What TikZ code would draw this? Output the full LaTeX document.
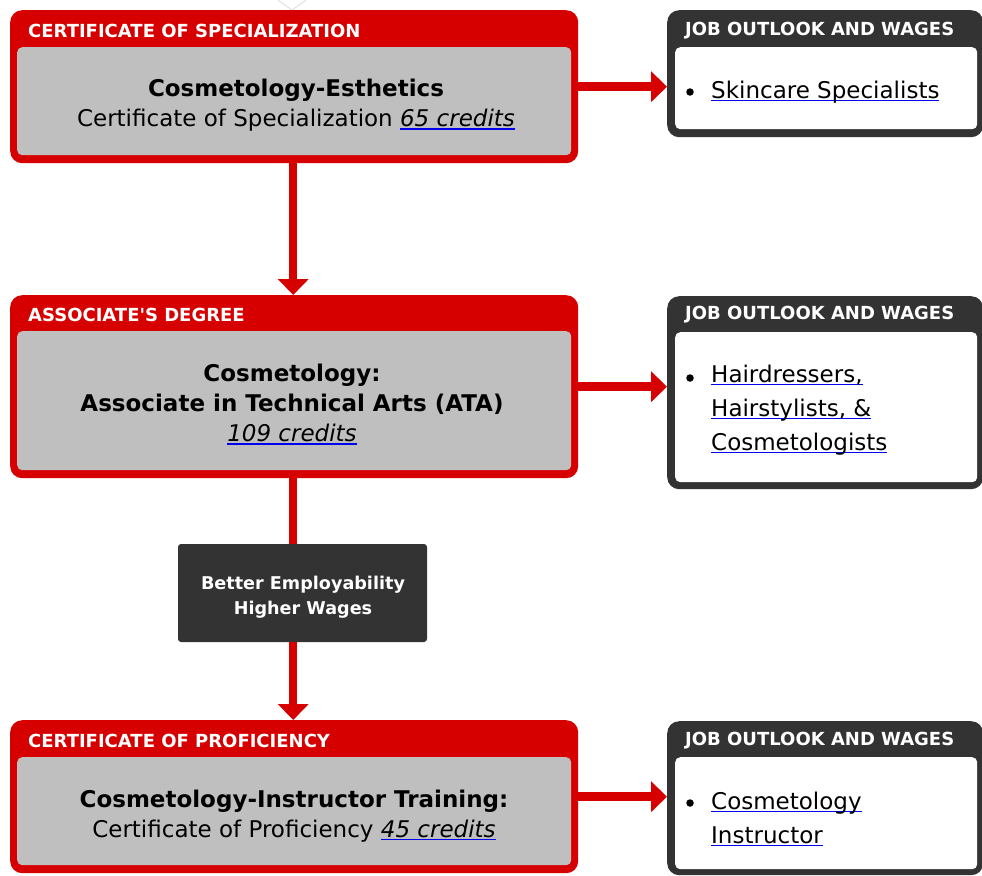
\documentclass[tikz,border=0pt]{standalone}
\usepackage{fontspec}
\setmainfont{DejaVu Sans}[BoldFont={DejaVu Sans Bold},ItalicFont={DejaVu Sans Oblique},BoldItalicFont={DejaVu Sans Bold Oblique}]
\usetikzlibrary{arrows.meta}
\definecolor{cred}{HTML}{D60000}
\definecolor{cgray}{HTML}{BFBFBF}
\definecolor{cdark}{HTML}{333333}
\definecolor{ulblue}{HTML}{0000EE}
\newcommand\lnk[1]{\leavevmode\setbox0\hbox{#1}\rlap{\textcolor{ulblue}{\rule[-3pt]{\wd0}{1.5pt}}}\box0}
\tikzset{
  redouter/.style={fill=cred, rounded corners=12pt, inner sep=0pt, anchor=north west},
  grayinner/.style={fill=cgray, rounded corners=5pt, inner sep=0pt, anchor=north west},
  darkouter/.style={fill=cdark, rounded corners=12pt, inner sep=0pt, anchor=north west},
  whiteinner/.style={fill=white, rounded corners=5pt, inner sep=0pt, anchor=north west},
  hdr/.style={text=white, font=\fontsize{18}{22}\selectfont\bfseries, anchor=west, inner sep=0pt},
  titletxt/.style={align=center, font=\fontsize{23}{30}\selectfont, inner sep=0pt},
  listtxt/.style={align=left, font=\fontsize{23}{34}\selectfont, anchor=west, inner sep=0pt},
  dot/.style={circle, fill=black, inner sep=0pt, minimum size=7.5pt},
  midbox/.style={fill=cdark, rounded corners=3pt, inner sep=0pt},
  midtxt/.style={text=white, align=center, font=\fontsize{17.6}{25}\selectfont\bfseries, inner sep=0pt},
  conn/.style={draw=cred, line width=8.5pt, -{Triangle[length=16pt,width=30pt]}},
  plain/.style={draw=cred, line width=8.5pt},
  chev/.style={draw=black!12, line width=1pt}
}
\begin{document}
\begin{tikzpicture}[x=1pt,y=-1pt]
\useasboundingbox (0,0) rectangle (982,875);
\draw[chev] (278,0) -- (292,10) -- (306,0);
% row 1
\node[redouter, minimum width=568pt, minimum height=153pt] (p1) at (10,10) {};
\node[grayinner, minimum width=554pt, minimum height=108pt] (g1) at (17,47) {};
\node[hdr] (h1) at (28,30.5) {CERTIFICATE OF SPECIALIZATION};
\node[titletxt] (t1) at (296,105.5) {\textbf{Cosmetology-Esthetics}\\Certificate of Specialization \textit{\lnk{65 credits}}};
\node[darkouter, minimum width=316pt, minimum height=127pt] (j1) at (667,10) {};
\node[whiteinner, minimum width=302pt, minimum height=82pt] (w1) at (675,47) {};
\node[hdr] (jh1) at (685,30.5) {JOB OUTLOOK AND WAGES};
\node[dot] (b1) at (690,92) {};
\node[listtxt] (l1) at (711,92) {\lnk{Skincare Specialists}};
% row 2
\node[redouter, minimum width=568pt, minimum height=183pt] (p2) at (10,295) {};
\node[grayinner, minimum width=554pt, minimum height=139pt] (g2) at (17,331) {};
\node[hdr] (h2) at (28,314.5) {ASSOCIATE\textquotesingle S DEGREE};
\node[titletxt] (t2) at (292,404.5) {\textbf{Cosmetology:}\\\textbf{Associate in Technical Arts (ATA)}\\\textit{\lnk{109 credits}}};
\node[darkouter, minimum width=316pt, minimum height=193pt] (j2) at (667,296) {};
\node[whiteinner, minimum width=302pt, minimum height=150pt] (w2) at (675,332) {};
\node[hdr] (jh2) at (685,314.5) {JOB OUTLOOK AND WAGES};
\node[dot] (b2) at (690,378) {};
\node[listtxt] (l2) at (711,410) {\lnk{Hairdressers,}\\\lnk{Hairstylists, \&}\\\lnk{Cosmetologists}};
% middle
\node[midbox, minimum width=249pt, minimum height=98pt] (mid) at (302.5,593) {};
\node[midtxt] (mtx) at (303,597) {Better Employability\\Higher Wages};
% row 3
\node[redouter, minimum width=568pt, minimum height=153pt] (p3) at (10,720) {};
\node[grayinner, minimum width=554pt, minimum height=108pt] (g3) at (17,757) {};
\node[hdr] (h3) at (28,740.5) {CERTIFICATE OF PROFICIENCY};
\node[titletxt] (t3) at (294,816) {\textbf{Cosmetology-Instructor Training:}\\Certificate of Proficiency \textit{\lnk{45 credits}}};
\node[darkouter, minimum width=316pt, minimum height=154pt] (j3) at (667,721) {};
\node[whiteinner, minimum width=302pt, minimum height=112pt] (w3) at (675,757) {};
\node[hdr] (jh3) at (685,740.5) {JOB OUTLOOK AND WAGES};
\node[dot] (b3) at (690,803) {};
\node[listtxt] (l3) at (711,819) {\lnk{Cosmetology}\\\lnk{Instructor}};
% connectors
\draw[conn] (p1.east) -- (p1.east -| j1.west);
\draw[conn] (p2.east) -- (p2.east -| j2.west);
\draw[conn] (p3.east) -- (p3.east -| j3.west);
\draw[conn] ([xshift=-1pt]p1.south) -- ([xshift=-1pt]p2.north);
\draw[plain] ([xshift=-1pt]p2.south) -- ([xshift=-1pt]p2.south |- mid.north);
\draw[conn] ([xshift=-1pt]p2.south |- mid.south) -- ([xshift=-1pt]p3.north);
\end{tikzpicture}
\end{document}
